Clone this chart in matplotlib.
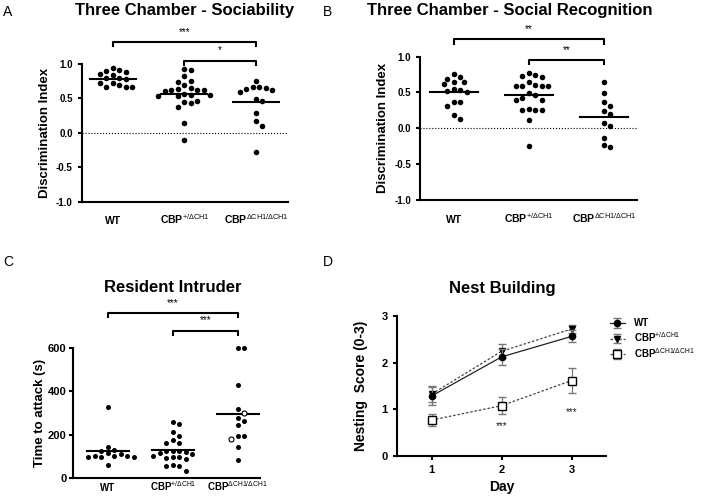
# plot.py
# Four panel behaviour figure: three chamber tests, resident intruder, nest building

import matplotlib.pyplot as plt
import numpy as np

plt.rcParams['font.family'] = ['Liberation Sans', 'DejaVu Sans']
plt.rcParams['mathtext.fontset'] = 'custom'
plt.rcParams['mathtext.rm'] = 'Liberation Sans'
plt.rcParams['mathtext.bf'] = 'Liberation Sans:bold'
plt.rcParams['axes.linewidth'] = 1.5

groups = ['WT', r'CBP$^{\mathrm{+/\Delta CH1}}$', r'CBP$^{\mathrm{\Delta CH1/\Delta CH1}}$']

# three chamber - sociability (discrimination index)
soc_wt = [0.94, 0.91, 0.90, 0.88, 0.86, 0.84, 0.80, 0.79, 0.78, 0.72, 0.70, 0.67, 0.66, 0.66, 0.72]
soc_het = [0.92, 0.91, 0.82, 0.75, 0.74, 0.70, 0.65, 0.63, 0.62, 0.62, 0.61, 0.62, 0.56, 0.55,
           0.54, 0.55, 0.53, 0.47, 0.44, 0.45, 0.38, 0.14, -0.10]
soc_hom = [0.67, 0.65, 0.76, 0.62, 0.63, 0.60, 0.66, 0.49, 0.47, 0.29, 0.18, 0.10, -0.27]

# three chamber - social recognition
rec_wt = [0.69, 0.64, 0.76, 0.65, 0.72, 0.61, 0.52, 0.55, 0.53, 0.51, 0.37, 0.31, 0.36, 0.13, 0.19]
rec_het = [0.77, 0.73, 0.72, 0.74, 0.59, 0.59, 0.59, 0.59, 0.60, 0.64, 0.47, 0.40, 0.40, 0.42,
           0.49, 0.26, 0.26, 0.26, 0.27, 0.11, -0.25]
rec_hom = [0.65, 0.49, 0.36, 0.31, 0.24, 0.20, 0.03, 0.07, -0.13, -0.26, -0.24]

# resident intruder - time to attack (s)
att_wt = [325, 145, 125, 130, 110, 100, 95, 100, 95, 100, 95, 60, 115]
att_het = [260, 250, 212, 192, 162, 160, 175, 125, 125, 120, 125, 115, 95, 90, 92, 95,
           58, 35, 58, 60, 100, 110]
att_hom = [600, 600, 428, 318, 265, 275, 245, 195, 192, 145, 82]
att_hom_open = [298, 178]

# nest building
days = [1, 2, 3]
nest_wt = [1.29, 2.13, 2.57]
nest_wt_err = [0.20, 0.17, 0.13]
nest_het = [1.33, 2.25, 2.73]
nest_het_err = [0.17, 0.15, 0.08]
nest_hom = [0.77, 1.08, 1.62]
nest_hom_err = [0.12, 0.18, 0.27]


def swarm(values, y_px, x_px, diam=6.5):
    # simple beeswarm: each point goes to the nearest free spot beside the centre
    vals = np.asarray(values, float)
    ys = vals * y_px
    offs = np.zeros(len(vals))
    placed = []
    step = diam / 2
    for i in np.argsort(-vals):
        for k in range(60):
            xo = ((k + 1) // 2) * step * (1 if k % 2 else -1)
            if all((xo - px) ** 2 + (ys[i] - py) ** 2 >= diam ** 2 for px, py in placed):
                break
        placed.append((xo, ys[i]))
        offs[i] = xo / x_px
    return offs


def dot_panel(ax, data, y_px, x_px, size, labsize, pad, half=0.32):
    for i, vals in enumerate(data):
        x = i + swarm(vals, y_px, x_px)
        ax.scatter(x, vals, s=size, color='black', zorder=3, clip_on=False, linewidths=0)
        ax.plot([i - half, i + half], [np.mean(vals)] * 2, color='black', lw=1.5, zorder=4)
    ax.spines['top'].set_visible(False)
    ax.spines['right'].set_visible(False)
    ax.set_xticks(range(len(data)))
    ax.set_xticklabels(groups, fontweight='bold', fontsize=labsize)
    for lab in ax.get_xticklabels():
        lab.set_verticalalignment('baseline')
    ax.tick_params(axis='x', length=0, pad=pad)
    ax.tick_params(axis='y', width=1.5, length=3, labelsize=7)
    for lab in ax.get_yticklabels():
        lab.set_fontweight('bold')


def bracket(ax, x1, x2, y, h, text, ts):
    ax.plot([x1, x1, x2, x2], [y - h, y, y, y - h], color='black', lw=1.5, clip_on=False)
    ax.text((x1 + x2) / 2, y + h * 1.2, text, ha='center', va='bottom', fontsize=ts)


fig = plt.figure(figsize=(7.06, 4.96), dpi=100)

# A
axA = fig.add_axes([0.116, 0.593, 0.292, 0.278])
dot_panel(axA, [soc_wt, soc_het, soc_hom], 69, 71.5, 16, 7.5, 16)
axA.axhline(0, ls=':', lw=0.8, color='black')
axA.set_ylim(-1, 1)
axA.set_xlim(-0.43, 2.45)
axA.set_yticks([-1, -0.5, 0, 0.5, 1])
axA.set_yticklabels(['-1.0', '-0.5', '0.0', '0.5', '1.0'])
axA.set_ylabel('Discrimination Index', fontweight='bold', fontsize=9.5)
bracket(axA, 0, 2, 1.32, 0.06, '***', 7)
bracket(axA, 1, 2, 1.05, 0.06, '*', 7)

# B
axB = fig.add_axes([0.595, 0.597, 0.307, 0.289])
dot_panel(axB, [rec_wt, rec_het, rec_hom], 71.7, 75, 16, 7.5, 16.5)
axB.axhline(0, ls=':', lw=0.8, color='black')
axB.set_ylim(-1, 1)
axB.set_xlim(-0.45, 2.44)
axB.set_yticks([-1, -0.5, 0, 0.5, 1])
axB.set_yticklabels(['-1.0', '-0.5', '0.0', '0.5', '1.0'])
axB.set_ylabel('Discrimination Index', fontweight='bold', fontsize=9.5)
bracket(axB, 0, 2, 1.24, 0.06, '**', 7)
bracket(axB, 1, 2, 0.95, 0.06, '**', 7)

# C
axC = fig.add_axes([0.103, 0.036, 0.265, 0.263])
hom_all = att_hom + att_hom_open
dot_panel(axC, [att_wt, att_het, hom_all], 0.2175, 65, 13, 7, 9)
# the two open symbols are drawn over their filled copies
offs = swarm(hom_all, 0.2175, 65)
axC.scatter(2 + offs[len(att_hom):], att_hom_open, s=13, facecolor='white', edgecolor='black',
            linewidths=0.8, zorder=5)
axC.set_ylim(0, 600)
axC.set_xlim(-0.54, 2.34)
axC.set_yticks([0, 200, 400, 600])
axC.tick_params(axis='y', labelsize=8, pad=1.5)
axC.set_ylabel('Time to attack (s)', fontweight='bold', fontsize=9.5, labelpad=1)
bracket(axC, 0, 2, 759, 20, '***', 7)
bracket(axC, 1, 2, 679, 20, '***', 7)

# D
axD = fig.add_axes([0.562, 0.081, 0.297, 0.281])
axD.errorbar(days, nest_wt, yerr=nest_wt_err, color='#222222', ecolor='#777777', lw=0.9,
             marker='o', ms=4.5, mfc='black', mec='black', capsize=3, elinewidth=0.9,
             ls='-', label='WT', clip_on=False, zorder=4)
axD.errorbar(days, nest_het, yerr=nest_het_err, color='#444444', ecolor='#777777', lw=0.9,
             marker='v', ms=4, mfc='black', mec='black', capsize=3, elinewidth=0.9,
             ls=(0, (2, 1.5)), label=groups[1], clip_on=False, zorder=3)
axD.errorbar(days, nest_hom, yerr=nest_hom_err, color='#444444', ecolor='#777777', lw=0.9,
             marker='s', ms=5.5, mfc='white', mec='black', mew=1, capsize=3, elinewidth=0.9,
             ls=(0, (2, 1.5)), label=groups[2], clip_on=False, zorder=3)
axD.text(2, 0.65, '***', ha='center', va='center', fontsize=7, color='#222222')
axD.text(3, 0.95, '***', ha='center', va='center', fontsize=7, color='#222222')
axD.set_xlim(0.5, 3.5)
axD.set_ylim(0, 3)
axD.set_xticks(days)
axD.set_yticks([0, 1, 2, 3])
axD.spines['top'].set_visible(False)
axD.spines['right'].set_visible(False)
axD.tick_params(width=1.5, length=3, labelsize=8)
for lab in axD.get_xticklabels() + axD.get_yticklabels():
    lab.set_fontweight('bold')
axD.set_xlabel('Day', fontweight='bold', fontsize=10)
axD.set_ylabel('Nesting  Score (0-3)', fontweight='bold', fontsize=10, labelpad=10)
leg = axD.legend(loc='upper left', bbox_to_anchor=(0.975, 1.05), frameon=False, fontsize=7,
                 handlelength=1.5, labelspacing=0.2, handletextpad=1.0)
for t in leg.get_texts():
    t.set_fontweight('bold')

# titles and panel letters
fig.text(185 / 706, 1 - 11 / 496, 'Three Chamber - Sociability', ha='center', va='center',
         fontsize=12, fontweight='bold')
fig.text(510 / 706, 1 - 11 / 496, 'Three Chamber - Social Recognition', ha='center', va='center',
         fontsize=12, fontweight='bold')
fig.text(173 / 706, 1 - 287 / 496, 'Resident Intruder', ha='center', va='center',
         fontsize=12, fontweight='bold')
fig.text(502 / 706, 1 - 288 / 496, 'Nest Building', ha='center', va='center',
         fontsize=12, fontweight='bold')
for letter, x, y in [('A', 8, 12), ('B', 327, 12), ('C', 8, 262), ('D', 328, 262)]:
    fig.text(x / 706, 1 - y / 496, letter, ha='center', va='center', fontsize=10)

plt.savefig('out.png', dpi=100)
